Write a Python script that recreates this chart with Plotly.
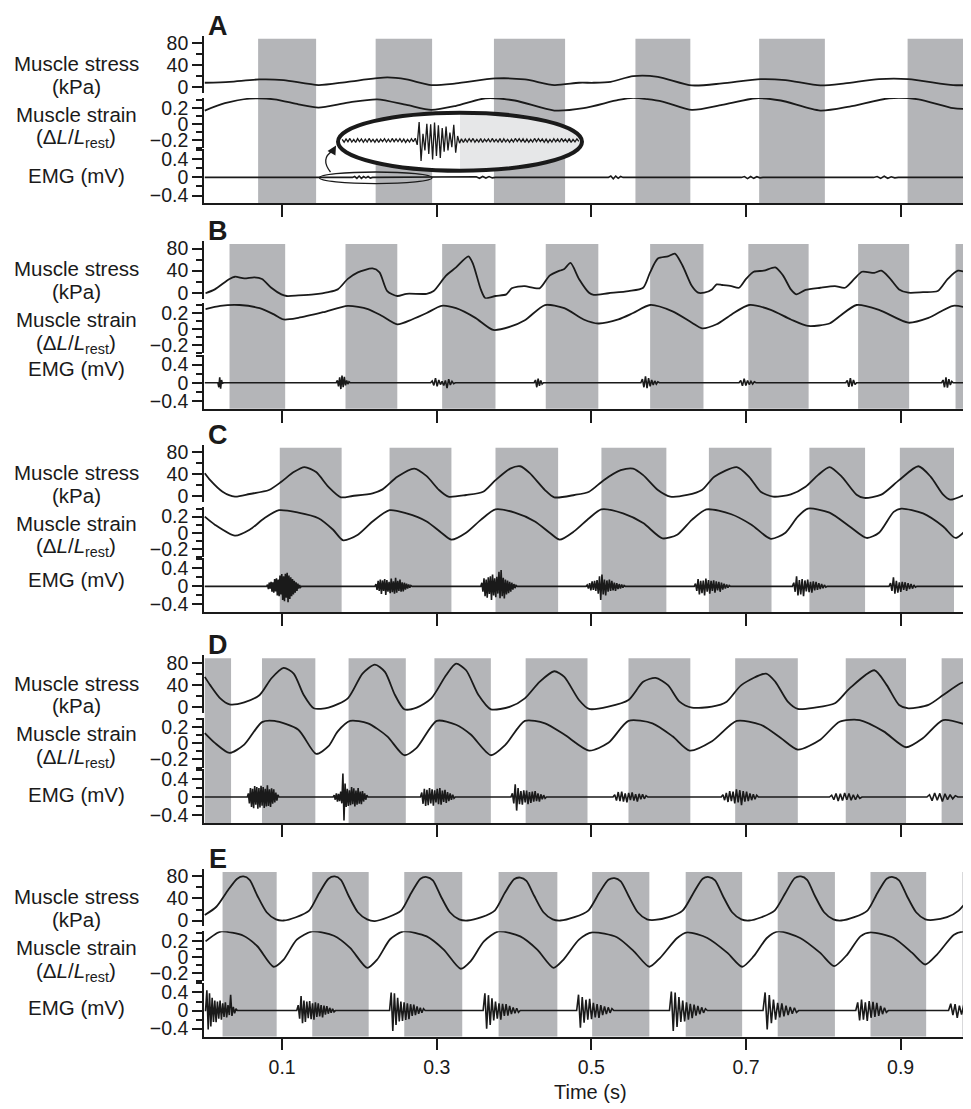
import plotly.graph_objects as go

# reference pixel geometry; the page body adds an 8 px margin
OFF = 8
W, H = 971 - OFF, 1109 - OFF

# ------------------------------------------------------------------ data
time_ticks = [0.1, 0.3, 0.5, 0.7, 0.9]
panel_letters = ["A", "B", "C", "D", "E"]

# shaded intervals (s)
A_band_start = [0.069, 0.221, 0.374, 0.557, 0.717, 0.909]
A_band_end = [0.144, 0.294, 0.466, 0.628, 0.802, 0.981]
B_band_start = [0.032, 0.182, 0.307, 0.441, 0.576, 0.703, 0.845, 0.971]
B_band_end = [0.104, 0.249, 0.376, 0.509, 0.645, 0.781, 0.911, 0.991]
C_band_start = [0.097, 0.239, 0.376, 0.513, 0.652, 0.782, 0.899]
C_band_end = [0.177, 0.319, 0.457, 0.597, 0.733, 0.854, 0.969]
D_band_start = [0.0, 0.074, 0.186, 0.297, 0.415, 0.548, 0.686, 0.829, 0.953]
D_band_end = [0.034, 0.143, 0.260, 0.370, 0.495, 0.628, 0.767, 0.907, 0.991]
E_band_start = [0.023, 0.139, 0.258, 0.380, 0.501, 0.622, 0.741, 0.861, 0.980]
E_band_end = [0.093, 0.212, 0.333, 0.456, 0.575, 0.695, 0.815, 0.933, 0.991]

# muscle stress (t [s], kPa)
A_stress = [(0.0, 8.4), (0.032, 10.2), (0.071, 14.4), (0.102, 13.2), (0.147, 4.2), (0.185, 10.2),
            (0.236, 18), (0.261, 14.4), (0.293, 4.2), (0.325, 7.2), (0.376, 16.2), (0.414, 14.4),
            (0.452, 4.2), (0.484, 8.4), (0.503, 8.4), (0.525, 10.2), (0.554, 20.4), (0.586, 19.2),
            (0.630, 3.6), (0.669, 7.2), (0.719, 15), (0.751, 13.2), (0.796, 3.6), (0.828, 7.2),
            (0.872, 15), (0.910, 15), (0.968, 4.2), (0.991, 4.2)]
B_stress = [(0.001, -1), (0.013, 6), (0.032, 25), (0.039, 29), (0.051, 26), (0.064, 28), (0.074, 25),
            (0.086, 9), (0.099, -3), (0.106, -6), (0.121, -5), (0.141, -3), (0.160, 1), (0.172, 6),
            (0.185, 25), (0.198, 37), (0.217, 44), (0.226, 37), (0.236, 3), (0.249, -6), (0.261, -2),
            (0.287, -2), (0.296, 3), (0.312, 31), (0.325, 46), (0.341, 66), (0.347, 52), (0.357, 6),
            (0.363, -10), (0.376, -6), (0.390, -3), (0.397, 8), (0.405, 11), (0.414, 12), (0.433, 8),
            (0.446, 31), (0.459, 40), (0.465, 43), (0.473, 54), (0.484, 25), (0.497, 0), (0.503, -4),
            (0.522, -1), (0.548, 3), (0.567, 9), (0.576, 37), (0.586, 62), (0.599, 66), (0.608, 71),
            (0.618, 49), (0.630, 12), (0.638, 0), (0.646, 0), (0.656, 6), (0.662, 15), (0.669, 14),
            (0.681, 12), (0.691, 9), (0.700, 25), (0.710, 38), (0.723, 40), (0.738, 46), (0.748, 31),
            (0.758, 6), (0.765, -3), (0.777, 5), (0.796, 9), (0.815, 12), (0.828, 9), (0.840, 25),
            (0.850, 38), (0.866, 36), (0.875, 40), (0.885, 28), (0.898, 6), (0.910, 0), (0.929, 1),
            (0.948, 3), (0.961, 25), (0.974, 40), (0.991, 34)]
C_stress = [(0.0, 42), (0.007, 29.4), (0.023, 8.4), (0.039, -0.6), (0.058, 4.2), (0.083, 11.4),
            (0.099, 26.4), (0.115, 44), (0.129, 53), (0.144, 44), (0.160, 17), (0.176, -1.8),
            (0.191, 0.6), (0.217, 5.4), (0.230, 12.6), (0.249, 35.4), (0.271, 50.4), (0.287, 36.6),
            (0.303, 11.4), (0.315, -0.6), (0.338, 2.4), (0.360, 8.4), (0.376, 29.4), (0.395, 50.4),
            (0.408, 54.6), (0.420, 42.6), (0.440, 11.4), (0.452, -1.8), (0.478, 2.4), (0.497, 8.4),
            (0.516, 29.4), (0.538, 47.4), (0.554, 50.4), (0.567, 38.4), (0.586, 11.4), (0.602, -0.6),
            (0.624, 2.4), (0.643, 11.4), (0.659, 35.4), (0.688, 53), (0.704, 35.4), (0.719, 8.4),
            (0.735, -0.6), (0.758, 3.6), (0.777, 17.4), (0.793, 38.4), (0.808, 53), (0.824, 35.4),
            (0.843, 3), (0.853, -3), (0.875, 3), (0.898, 29.4), (0.923, 54.6), (0.939, 35.4),
            (0.955, 3), (0.964, -6), (0.991, 8.4)]
D_stress = [(0.0, 54.7), (0.007, 39.7), (0.020, 15.7), (0.032, 4.9), (0.051, 8.5), (0.071, 21.7),
            (0.086, 51.7), (0.102, 71), (0.115, 60.7), (0.128, 21.7), (0.141, -2.4), (0.160, -1.2),
            (0.185, 15.7), (0.204, 60.7), (0.220, 76.9), (0.233, 63.7), (0.246, 21.7), (0.258, -4.2),
            (0.274, -1.2), (0.293, 15.7), (0.312, 57.7), (0.325, 78.7), (0.338, 66.7), (0.354, 21.7),
            (0.370, -4.2), (0.395, 0.6), (0.414, 15.7), (0.433, 45.7), (0.452, 64.9), (0.465, 54.7),
            (0.484, 12.7), (0.497, -3.6), (0.522, 0.6), (0.548, 12.7), (0.567, 45.7), (0.583, 52.9),
            (0.599, 39.7), (0.614, 9.7), (0.630, -1.2), (0.656, 0.6), (0.675, 9.7), (0.694, 39.7),
            (0.726, 60.7), (0.738, 45.7), (0.754, 9.7), (0.767, -3.6), (0.789, -1.2), (0.815, 6.7),
            (0.834, 33.7), (0.866, 66.7), (0.882, 39.7), (0.898, 3.7), (0.910, -2.4), (0.936, 3.7),
            (0.955, 21.7), (0.977, 42.7), (0.991, 48.7)]
E_stress = [(0.0, 10), (0.015, 25), (0.030, 55), (0.042, 76), (0.050, 80), (0.058, 74), (0.068, 45),
            (0.080, 15), (0.092, 2), (0.102, 0), (0.118, 6), (0.135, 18), (0.148, 50), (0.160, 76),
            (0.168, 80), (0.176, 74), (0.186, 45), (0.198, 15), (0.210, 2), (0.220, -1), (0.237, 6),
            (0.254, 18), (0.267, 50), (0.279, 76), (0.287, 79), (0.295, 73), (0.305, 45), (0.317, 15),
            (0.329, 2), (0.340, 0), (0.358, 6), (0.375, 18), (0.388, 50), (0.400, 75), (0.408, 78),
            (0.416, 72), (0.426, 45), (0.438, 15), (0.450, 2), (0.460, 0), (0.478, 6), (0.496, 18),
            (0.510, 50), (0.522, 74), (0.530, 77), (0.538, 71), (0.548, 45), (0.560, 15), (0.572, 2),
            (0.582, 1), (0.600, 6), (0.618, 18), (0.632, 50), (0.644, 76), (0.652, 79), (0.660, 73),
            (0.670, 45), (0.682, 15), (0.694, 2), (0.704, 0), (0.720, 6), (0.737, 18), (0.751, 50),
            (0.763, 77), (0.771, 80), (0.779, 74), (0.789, 45), (0.801, 15), (0.813, 2), (0.823, 0),
            (0.840, 6), (0.857, 18), (0.870, 50), (0.882, 76), (0.890, 79), (0.898, 73), (0.908, 45),
            (0.920, 15), (0.932, 2), (0.942, 1), (0.960, 6), (0.975, 18), (0.991, 45)]

# muscle strain (t [s], dL/Lrest)
A_strain = [(0.0, 0.165), (0.026, 0.256), (0.058, 0.313), (0.090, 0.305), (0.121, 0.243), (0.147, 0.202),
            (0.185, 0.264), (0.223, 0.305), (0.261, 0.235), (0.293, 0.173), (0.325, 0.223), (0.363, 0.318),
            (0.401, 0.29), (0.452, 0.165), (0.490, 0.194), (0.535, 0.297), (0.554, 0.322), (0.592, 0.277),
            (0.630, 0.173), (0.669, 0.235), (0.713, 0.318), (0.745, 0.29), (0.796, 0.165), (0.834, 0.215),
            (0.885, 0.318), (0.923, 0.305), (0.968, 0.194), (0.991, 0.182)]
B_strain = [(0.001, 0.25), (0.020, 0.29), (0.045, 0.30), (0.071, 0.26), (0.090, 0.18), (0.102, 0.12),
            (0.121, 0.14), (0.153, 0.21), (0.185, 0.29), (0.211, 0.25), (0.230, 0.16), (0.249, 0.06),
            (0.268, 0.12), (0.287, 0.20), (0.306, 0.29), (0.325, 0.26), (0.350, 0.14), (0.373, -0.01),
            (0.395, 0.03), (0.414, 0.11), (0.440, 0.30), (0.465, 0.26), (0.490, 0.12), (0.509, 0.07),
            (0.535, 0.12), (0.554, 0.20), (0.576, 0.30), (0.605, 0.22), (0.630, 0.08), (0.643, 0.01),
            (0.662, 0.06), (0.681, 0.18), (0.704, 0.30), (0.732, 0.24), (0.758, 0.12), (0.780, 0.04),
            (0.808, 0.07), (0.821, 0.16), (0.843, 0.30), (0.872, 0.24), (0.910, 0.08), (0.936, 0.14),
            (0.968, 0.29), (0.991, 0.25)]
C_strain = [(0.0, 0.20), (0.013, 0.10), (0.039, -0.036), (0.058, 0.037), (0.077, 0.18), (0.096, 0.28),
            (0.121, 0.25), (0.147, 0.18), (0.166, 0.037), (0.179, -0.094), (0.198, -0.024), (0.217, 0.14),
            (0.239, 0.28), (0.261, 0.24), (0.287, 0.14), (0.306, 0.0), (0.319, -0.086), (0.338, 0.0),
            (0.357, 0.16), (0.376, 0.29), (0.401, 0.25), (0.427, 0.14), (0.446, 0.0), (0.459, -0.086),
            (0.478, 0.02), (0.497, 0.18), (0.513, 0.29), (0.541, 0.24), (0.567, 0.12), (0.592, -0.07),
            (0.611, -0.024), (0.630, 0.16), (0.649, 0.29), (0.681, 0.23), (0.707, 0.10), (0.732, -0.075),
            (0.751, 0.0), (0.767, 0.20), (0.780, 0.30), (0.808, 0.25), (0.834, 0.078), (0.856, -0.065),
            (0.872, 0.0), (0.891, 0.26), (0.901, 0.30), (0.929, 0.24), (0.955, 0.078), (0.971, -0.065),
            (0.991, 0.10)]
D_strain = [(0.0, 0.129), (0.013, 0.007), (0.032, -0.118), (0.051, -0.015), (0.074, 0.265), (0.090, 0.28),
            (0.121, 0.17), (0.144, -0.13), (0.160, -0.035), (0.172, 0.15), (0.188, 0.28), (0.211, 0.25),
            (0.236, 0.088), (0.258, -0.147), (0.274, -0.056), (0.300, 0.28), (0.325, 0.232), (0.344, 0.11),
            (0.370, -0.147), (0.389, -0.015), (0.414, 0.28), (0.440, 0.25), (0.465, 0.11), (0.497, -0.089),
            (0.522, 0.007), (0.548, 0.28), (0.579, 0.25), (0.605, 0.088), (0.627, -0.089), (0.656, 0.027),
            (0.688, 0.28), (0.719, 0.232), (0.745, 0.067), (0.767, -0.077), (0.796, 0.047), (0.821, 0.27),
            (0.847, 0.29), (0.878, 0.15), (0.907, -0.048), (0.929, 0.067), (0.955, 0.29), (0.991, 0.21)]
E_strain = [(0.001, 0.194), (0.016, 0.297), (0.022, 0.318), (0.050, 0.264), (0.068, 0.133), (0.089, -0.122),
            (0.102, -0.032), (0.119, 0.215), (0.139, 0.318), (0.167, 0.264), (0.188, 0.113), (0.210, -0.135),
            (0.223, -0.032), (0.240, 0.223), (0.257, 0.318), (0.287, 0.256), (0.309, 0.092), (0.331, -0.147),
            (0.344, -0.051), (0.361, 0.194), (0.380, 0.318), (0.408, 0.256), (0.430, 0.092), (0.451, -0.135),
            (0.464, -0.032), (0.484, 0.215), (0.501, 0.305), (0.533, 0.245), (0.555, 0.07), (0.575, -0.122),
            (0.589, -0.011), (0.611, 0.236), (0.624, 0.305), (0.650, 0.236), (0.676, 0.050), (0.695, -0.122),
            (0.710, 0.009), (0.727, 0.236), (0.742, 0.318), (0.770, 0.236), (0.796, 0.050), (0.814, -0.114),
            (0.831, 0.030), (0.848, 0.256), (0.861, 0.305), (0.891, 0.236), (0.915, 0.050), (0.932, -0.094),
            (0.947, 0.030), (0.969, 0.277), (0.982, 0.318), (0.991, 0.305)]

# EMG bursts: (start s, end s, sampled mV values)
A_emg = [(0.191, 0.217, [0, 0.02, -0.02, 0.03, -0.02, 0.02, -0.01, 0.02, -0.015, 0]),
         (0.347, 0.376, [0, 0.015, -0.02, 0.02, -0.015, 0.02, -0.01, 0]),
         (0.522, 0.541, [0, 0.03, -0.03, 0.03, -0.02, 0.02, 0]),
         (0.694, 0.722, [0, 0.02, -0.025, 0.02, -0.02, 0.015, -0.01, 0]),
         (0.865, 0.897, [0, 0.02, -0.02, 0.025, -0.02, 0.015, -0.01, 0])]
B_emg = [(0.017, 0.024, [0, -0.10, 0.12, -0.13, 0.06, -0.02, 0]),
         (0.170, 0.188, [0, 0.05, -0.08, 0.12, -0.14, 0.16, -0.10, 0.13, -0.06, 0.05, -0.03, 0.02, 0]),
         (0.292, 0.324, [0, 0.04, -0.06, 0.10, -0.08, 0.06, -0.04, 0.03, -0.06, 0.05, -0.12, 0.08, -0.05,
                         0.03, -0.02, 0]),
         (0.426, 0.438, [0, 0.06, -0.10, 0.09, -0.07, 0.05, -0.03, 0]),
         (0.564, 0.588, [0, 0.08, -0.10, 0.14, -0.12, 0.10, -0.08, 0.06, -0.05, 0.04, -0.03, 0.02, 0]),
         (0.691, 0.713, [0, 0.05, -0.07, 0.09, -0.06, 0.05, -0.04, 0.03, -0.03, 0.02, 0]),
         (0.829, 0.843, [0, 0.05, -0.09, 0.10, -0.08, 0.06, -0.04, 0]),
         (0.953, 0.968, [0, 0.06, -0.10, 0.12, -0.11, 0.08, -0.05, 0.03, 0])]
C_emg = [(0.080, 0.125, [0, 0.04, -0.06, 0.08, -0.05, 0.10, -0.12, 0.09, -0.14, 0.16, -0.11, 0.18, -0.20, 0.15,
                         -0.22, 0.24, -0.18, 0.27, -0.30, 0.22, -0.33, 0.28, -0.25, 0.30, -0.35, 0.24, -0.28,
                         0.20, -0.22, 0.16, -0.18, 0.12, -0.14, 0.09, -0.10, 0.06, -0.05, 0.03, -0.02, 0]),
         (0.220, 0.268, [0, 0.05, -0.08, 0.12, -0.10, 0.15, -0.17, 0.13, -0.10, 0.16, -0.19, 0.14, -0.12, 0.10,
                         -0.15, 0.17, -0.13, 0.11, -0.16, 0.19, -0.14, 0.12, -0.10, 0.15, -0.12, 0.09, -0.11,
                         0.08, -0.07, 0.06, -0.05, 0.04, -0.03, 0.02, 0]),
         (0.357, 0.404, [0, 0.08, -0.12, 0.18, -0.22, 0.15, -0.25, 0.20, -0.17, 0.22, -0.30, 0.26, -0.20, 0.18,
                         -0.24, 0.21, -0.16, 0.32, -0.26, 0.36, -0.22, 0.19, -0.27, 0.15, -0.18, 0.13, -0.15,
                         0.10, -0.12, 0.08, -0.07, 0.05, -0.04, 0.02, 0]),
         (0.493, 0.544, [0, 0.03, -0.05, 0.07, -0.09, 0.11, -0.08, 0.12, -0.10, 0.14, -0.16, 0.22, -0.30, 0.26,
                         -0.18, 0.15, -0.20, 0.13, -0.12, 0.15, -0.10, 0.12, -0.09, 0.08, -0.10, 0.07, -0.06,
                         0.05, -0.05, 0.04, -0.03, 0.02, 0]),
         (0.633, 0.680, [0, 0.06, -0.10, 0.16, -0.18, 0.12, -0.15, 0.13, -0.20, 0.17, -0.12, 0.14, -0.16, 0.12,
                         -0.10, 0.13, -0.14, 0.11, -0.09, 0.10, -0.12, 0.08, -0.07, 0.06, -0.05, 0.04, -0.03,
                         0.02, 0]),
         (0.760, 0.805, [0, 0.08, -0.12, 0.22, -0.20, 0.14, -0.18, 0.16, -0.22, 0.13, -0.11, 0.15, -0.13, 0.10,
                         -0.14, 0.11, -0.09, 0.10, -0.08, 0.07, -0.06, 0.05, -0.04, 0.03, -0.02, 0]),
         (0.885, 0.921, [0, 0.07, -0.10, 0.20, -0.16, 0.12, -0.14, 0.09, -0.12, 0.10, -0.08, 0.09, -0.10, 0.07,
                         -0.06, 0.05, -0.05, 0.03, -0.02, 0])]
D_emg = [(0.055, 0.096, [0, 0.08, -0.14, 0.20, -0.22, 0.18, -0.25, 0.24, -0.17, 0.22, -0.26, 0.20, -0.23, 0.25,
                         -0.19, 0.22, -0.24, 0.18, -0.21, 0.26, -0.20, 0.17, -0.22, 0.19, -0.15, 0.17, -0.12,
                         0.10, -0.08, 0.05, 0]),
         (0.166, 0.211, [0, 0.04, -0.06, 0.08, -0.10, 0.07, -0.09, 0.12, -0.14, 0.52, -0.52, 0.30, -0.22, 0.18,
                         -0.20, 0.15, -0.18, 0.22, -0.16, 0.19, -0.21, 0.14, -0.17, 0.20, -0.15, 0.12, -0.16,
                         0.13, -0.10, 0.08, -0.06, 0.04, 0]),
         (0.279, 0.324, [0, 0.10, -0.15, 0.18, -0.20, 0.16, -0.18, 0.20, -0.14, 0.17, -0.19, 0.15, -0.12, 0.18,
                         -0.16, 0.20, -0.17, 0.14, -0.11, 0.16, -0.13, 0.11, -0.09, 0.08, -0.06, 0.05, -0.03, 0]),
         (0.396, 0.442, [0, 0.08, -0.14, 0.28, -0.30, 0.20, -0.16, 0.13, -0.17, 0.15, -0.12, 0.14, -0.16, 0.11,
                         -0.13, 0.12, -0.10, 0.13, -0.09, 0.08, -0.10, 0.06, -0.05, 0.04, -0.03, 0]),
         (0.528, 0.573, [0, 0.05, -0.08, 0.11, -0.09, 0.12, -0.10, 0.08, -0.12, 0.09, -0.07, 0.10, -0.08, 0.06,
                         -0.10, 0.07, -0.05, 0.06, -0.04, 0.03, 0]),
         (0.668, 0.716, [0, 0.05, -0.07, 0.09, -0.11, 0.13, -0.09, 0.12, -0.14, 0.17, -0.12, 0.15, -0.18, 0.13,
                         -0.10, 0.12, -0.09, 0.08, -0.07, 0.06, -0.05, 0.04, 0]),
         (0.808, 0.850, [0, 0.04, -0.06, 0.08, -0.09, 0.07, -0.08, 0.09, -0.06, 0.08, -0.07, 0.05, -0.06, 0.04,
                         -0.03, 0]),
         (0.934, 0.974, [0, 0.05, -0.08, 0.09, -0.07, 0.08, -0.10, 0.07, -0.06, 0.05, -0.04, 0.03, 0])]
E_emg = [(0.001, 0.042, [0, 0.45, -0.42, 0.38, -0.35, 0.28, -0.25, 0.22, -0.26, 0.20, -0.18, 0.22, -0.20, 0.16,
                         -0.14, 0.18, -0.15, 0.12, -0.10, 0.35, -0.12, 0.08, -0.06, 0.04, 0]),
         (0.119, 0.169, [0, 0.12, -0.18, 0.32, -0.28, 0.22, -0.25, 0.20, -0.17, 0.21, -0.19, 0.16, -0.20, 0.18,
                         -0.14, 0.16, -0.13, 0.12, -0.15, 0.11, -0.09, 0.10, -0.07, 0.06, -0.05, 0.04, -0.03, 0]),
         (0.239, 0.285, [0, 0.40, -0.45, 0.38, -0.32, 0.28, -0.24, 0.20, -0.23, 0.18, -0.21, 0.16, -0.19, 0.14,
                         -0.12, 0.13, -0.10, 0.09, -0.07, 0.06, -0.05, 0.04, 0]),
         (0.360, 0.408, [0, 0.38, -0.40, 0.34, -0.32, 0.27, -0.22, 0.20, -0.18, 0.16, -0.20, 0.15, -0.12, 0.14,
                         -0.11, 0.10, -0.08, 0.07, -0.06, 0.05, -0.04, 0]),
         (0.481, 0.529, [0, 0.35, -0.38, 0.30, -0.27, 0.24, -0.20, 0.26, -0.19, 0.17, -0.15, 0.14, -0.16, 0.12,
                         -0.10, 0.09, -0.08, 0.07, -0.05, 0.04, 0]),
         (0.601, 0.650, [0, 0.42, -0.45, 0.40, -0.36, 0.30, -0.25, 0.22, -0.24, 0.18, -0.20, 0.15, -0.17, 0.13,
                         -0.11, 0.10, -0.08, 0.07, -0.05, 0.04, 0]),
         (0.722, 0.768, [0, 0.40, -0.42, 0.34, -0.28, 0.24, -0.20, 0.17, -0.15, 0.16, -0.13, 0.11, -0.10, 0.08,
                         -0.07, 0.06, -0.04, 0]),
         (0.842, 0.884, [0, 0.18, -0.22, 0.24, -0.20, 0.18, -0.23, 0.21, -0.16, 0.19, -0.14, 0.17, -0.12, 0.10,
                         -0.08, 0.06, -0.04, 0]),
         (0.962, 0.990, [0, 0.15, -0.10, 0.14, -0.16, 0.11, -0.09, 0.13, -0.11, 0.08, -0.06])]

# magnified EMG shown in the inset of panel A (relative units)
inset_left = [0.05, -0.08, 0.07, -0.06, 0.09, -0.07, 0.05, -0.09, 0.08, -0.05, 0.07, -0.08, 0.06, -0.07, 0.09,
              -0.06, 0.05, -0.08, 0.07, -0.09, 0.06, -0.05, 0.08, -0.07, 0.06, -0.08, 0.09, -0.06, 0.07, -0.05,
              0.08, -0.07, 0.06, -0.09, 0.05, -0.07, 0.08, -0.06]
inset_burst = [0.1, -0.2, 0.82, -0.92, 0.3, -0.45, 0.75, -0.6, 0.72, -0.85, 0.8, -0.7, 0.68, -0.78, 0.55, -0.5,
               0.62, -0.45, 0.35, -0.3, 0.7, -0.55, 0.2, -0.12]
inset_right = [0.07, -0.09, 0.06, -0.07, 0.08, -0.06, 0.09, -0.08, 0.05, -0.07, 0.08, -0.09, 0.06, -0.05, 0.07,
               -0.08, 0.09, -0.06, 0.05, -0.07, 0.08, -0.09, 0.07, -0.06, 0.05, -0.08, 0.06, -0.07, 0.09, -0.05,
               0.08, -0.06, 0.07, -0.09, 0.06, -0.08, 0.05, -0.07, 0.09, -0.06, 0.08, -0.05, 0.07, -0.08, 0.06,
               -0.09, 0.05, -0.07, 0.08, -0.06, 0.07, -0.08, 0.09, -0.05, 0.06, -0.07, 0.08, -0.09, 0.05, -0.06,
               0.07, -0.04]

stress_sets = [A_stress, B_stress, C_stress, D_stress, E_stress]
strain_sets = [A_strain, B_strain, C_strain, D_strain, E_strain]
emg_sets = [A_emg, B_emg, C_emg, D_emg, E_emg]
band_sets = [(A_band_start, A_band_end), (B_band_start, B_band_end), (C_band_start, C_band_end),
             (D_band_start, D_band_end), (E_band_start, E_band_end)]

# ------------------------------------------------------------------ layout helpers
FONT = "Liberation Sans, Arial, Helvetica, sans-serif"
INK = "#1a1a1a"
SHADE = "#b4b5b8"
XMAX = 0.991
panel_bottom_px = [201, 408, 613.3, 825.7, 1041]
emg_label_h = [27.7, 40.7, 33.3, 29, 29]


def py(p):
    return 1 - (p - OFF) / H


def pxp(p):
    return (p - OFF) / W


def emg_xy(bursts):
    xs, ys = [0.0], [0.0]
    for t0, t1, vals in bursts:
        n = len(vals)
        for i, v in enumerate(vals):
            xs.append(t0 + (t1 - t0) * i / (n - 1))
            ys.append(v)
    xs.append(XMAX)
    ys.append(0.0)
    return xs, ys


fig = go.Figure()
layout = {}
shapes = []
annotations = []

yax_common = dict(showline=True, linecolor=INK, linewidth=1.6, ticks="outside", ticklen=10,
                  tickwidth=1.5, tickcolor=INK, showgrid=False, zeroline=False,
                  tickfont=dict(size=19.5, color=INK, family=FONT), fixedrange=True)

for p in range(5):
    xn = "" if p == 0 else str(p + 1)
    ks = [3 * p + 1, 3 * p + 2, 3 * p + 3]
    yn = ["" if k == 1 else str(k) for k in ks]
    Yb = panel_bottom_px[p]

    st = stress_sets[p]
    sn = strain_sets[p]
    ex, ey = emg_xy(emg_sets[p])
    fig.add_trace(go.Scatter(x=[a for a, b in st], y=[b for a, b in st], xaxis="x" + xn, yaxis="y" + yn[0],
                             mode="lines", line=dict(color=INK, width=1.8, shape="spline", smoothing=0.7),
                             hoverinfo="skip"))
    fig.add_trace(go.Scatter(x=[a for a, b in sn], y=[b for a, b in sn], xaxis="x" + xn, yaxis="y" + yn[1],
                             mode="lines", line=dict(color=INK, width=1.8, shape="spline", smoothing=0.7),
                             hoverinfo="skip"))
    fig.add_trace(go.Scatter(x=ex, y=ey, xaxis="x" + xn, yaxis="y" + yn[2],
                             mode="lines", line=dict(color=INK, width=1.6), hoverinfo="skip"))

    layout["xaxis" + xn] = dict(domain=[pxp(204), 1], anchor="y" + yn[2], range=[-0.001, XMAX],
                                showline=True, linecolor=INK, linewidth=1.6, ticks="outside", ticklen=12,
                                tickwidth=1.5, tickcolor=INK, tickvals=time_ticks,
                                ticktext=[str(v) for v in time_ticks],
                                showticklabels=(p == 4), showgrid=False, zeroline=False,
                                tickfont=dict(size=19.5, color=INK, family=FONT), fixedrange=True)
    layout["yaxis" + yn[0]] = dict(domain=[py(Yb - 111), py(Yb - 169)], anchor="x" + xn, range=[-10.8, 93.7],
                                   tickvals=[0, 40, 80],
                                   minor=dict(tickmode="array", tickvals=[20, 60], ticks="outside", ticklen=6,
                                              tickwidth=1.5, tickcolor=INK), **yax_common)
    layout["yaxis" + yn[1]] = dict(domain=[py(Yb - 55.95), py(Yb - 106.2)], anchor="x" + xn, range=[-0.30, 0.32],
                                   tickvals=[-0.2, 0, 0.2],
                                   minor=dict(tickmode="array", tickvals=[-0.3, -0.1, 0.1, 0.3], ticks="outside",
                                              ticklen=6, tickwidth=1.5, tickcolor=INK), **yax_common)
    layout["yaxis" + yn[2]] = dict(domain=[py(Yb), py(Yb - 54.5)], anchor="x" + xn, range=[-0.575, 0.62],
                                   tickvals=[-0.4, 0, 0.4],
                                   minor=dict(tickmode="array", tickvals=[-0.2, 0.2, 0.6], ticks="outside",
                                              ticklen=6, tickwidth=1.5, tickcolor=INK), **yax_common)

    s_list, e_list = band_sets[p]
    for s, e in zip(s_list, e_list):
        shapes.append(dict(type="rect", xref="x" + xn, yref="paper", x0=s, x1=min(e, XMAX),
                           y0=py(Yb), y1=py(Yb - 166), fillcolor=SHADE, line=dict(width=0), layer="below"))

    # panel letter and left-hand labels
    annotations.append(dict(text="<b>%s</b>" % panel_letters[p], xref="paper", yref="paper", x=pxp(218),
                            y=py(Yb - 179), xanchor="center", yanchor="middle", showarrow=False,
                            font=dict(size=27, color=INK, family=FONT)))
    for txt, h in [("Muscle stress", 141), ("(kPa)", 118), ("Muscle strain", 90),
                   ("(Δ<i>L</i>/<i>L</i><sub>rest</sub>)", 65.5), ("EMG (mV)", emg_label_h[p])]:
        annotations.append(dict(text=txt, xref="paper", yref="paper", x=pxp(76), y=py(Yb - h),
                                xanchor="center", yanchor="middle", showarrow=False,
                                font=dict(size=20.5, color=INK, family=FONT)))

annotations.append(dict(text="Time (s)", xref="paper", yref="paper", x=pxp(590), y=py(1097),
                        xanchor="center", yanchor="middle", showarrow=False,
                        font=dict(size=20, color=INK, family=FONT)))

# ---------------- inset of panel A
ecx0, ecx1, ecy0, ecy1 = 338, 582, 109.5, 168
cx, cy = (ecx0 + ecx1) / 2, (ecy0 + ecy1) / 2
rx, ry = (ecx1 - ecx0) / 2, (ecy1 - ecy0) / 2
k = 0.5523
shapes.append(dict(type="circle", xref="paper", yref="paper", x0=pxp(ecx0), x1=pxp(ecx1),
                   y0=py(ecy1), y1=py(ecy0), fillcolor="white", line=dict(width=0), layer="below"))
half = ("M {a},{b} C {c},{b} {d},{e} {d},{f} C {d},{g} {c},{h} {a},{h} Z").format(
    a=pxp(cx), b=py(cy - ry), c=pxp(cx + k * rx), d=pxp(cx + rx), e=py(cy - k * ry), f=py(cy),
    g=py(cy + k * ry), h=py(cy + ry))
shapes.append(dict(type="path", xref="paper", yref="paper", path=half, fillcolor="#e6e7e8",
                   line=dict(width=0), layer="below"))
shapes.append(dict(type="circle", xref="paper", yref="paper", x0=pxp(ecx0), x1=pxp(ecx1),
                   y0=py(ecy1), y1=py(ecy0), line=dict(color=INK, width=4), layer="above"))
shapes.append(dict(type="circle", xref="paper", yref="paper", x0=pxp(319.5), x1=pxp(432),
                   y0=py(181), y1=py(169.3), line=dict(color=INK, width=1.3), layer="above"))
shapes.append(dict(type="path", xref="paper", yref="paper",
                   path="M {},{} Q {},{} {},{}".format(pxp(330.5), py(169.3), pxp(320), py(156),
                                                       pxp(332.5), py(148)),
                   line=dict(color=INK, width=1.3), layer="above"))
annotations.append(dict(text="", xref="paper", yref="paper", x=pxp(336), y=py(142.5), ax=-4, ay=7,
                        showarrow=True, arrowhead=2, arrowsize=1.4, arrowwidth=1.3, arrowcolor=INK))

inset_vals = inset_left + inset_burst + inset_right
n_in = len(inset_vals)
fig.add_trace(go.Scatter(x=[i / (n_in - 1) for i in range(n_in)], y=inset_vals, xaxis="x6", yaxis="y16",
                         mode="lines", line=dict(color=INK, width=1.3), hoverinfo="skip"))
layout["xaxis6"] = dict(domain=[pxp(341), pxp(580)], anchor="y16", range=[-0.005, 1.005], visible=False,
                        fixedrange=True)
layout["yaxis16"] = dict(domain=[py(160), py(115)], anchor="x6", range=[-1, 1], visible=False, fixedrange=True)

fig.update_layout(**layout)
fig.update_layout(width=W, height=H, margin=dict(l=0, r=0, t=0, b=0), showlegend=False,
                  paper_bgcolor="white", plot_bgcolor="rgba(0,0,0,0)",
                  font=dict(family=FONT, color=INK, size=20), shapes=shapes, annotations=annotations)

fig.write_html("out.html")
